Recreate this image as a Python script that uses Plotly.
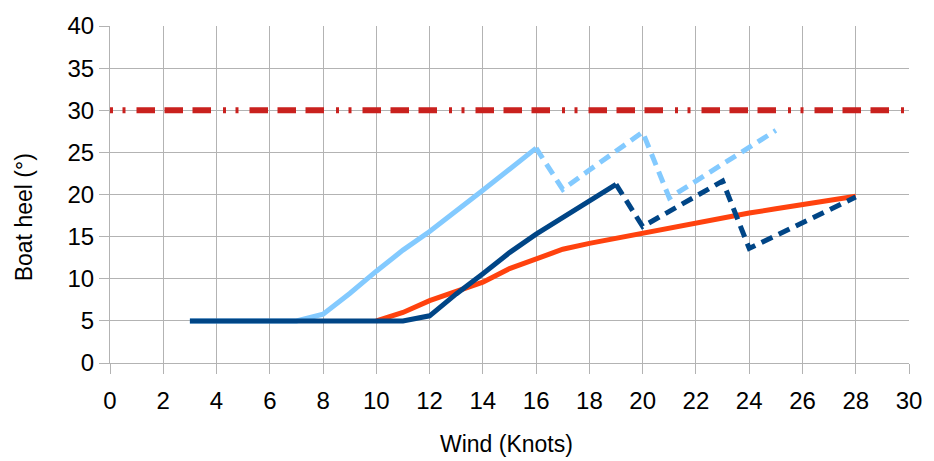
import plotly.graph_objects as go

# Wind speed (knots) and boat heel (degrees) for each configuration
wind_light = [3, 4, 5, 6, 7, 8, 9, 10, 11, 12, 13, 14, 15, 16]
heel_light = [5, 5, 5, 5, 5, 5.8, 8.25, 10.9, 13.4, 15.6, 18.0, 20.5, 23.0, 25.5]

wind_light_reef = [16, 17, 18, 19, 20, 21, 22, 23, 24, 25]
heel_light_reef = [25.5, 20.6, 22.9, 25.1, 27.4, 19.6, 21.6, 23.6, 25.6, 27.6]

wind_orange = [10, 11, 12, 13, 14, 15, 16, 17, 18, 19, 20, 21, 22, 23, 24, 25, 26, 27, 28]
heel_orange = [5, 6.0, 7.4, 8.5, 9.6, 11.2, 12.4, 13.5, 14.2, 14.8, 15.4, 16.0, 16.7,
               17.3, 17.8, 18.3, 18.8, 19.3, 19.8]

wind_dark = [3, 4, 5, 6, 7, 8, 9, 10, 11, 12, 13, 14, 15, 16, 17, 18, 19]
heel_dark = [5, 5, 5, 5, 5, 5, 5, 5, 5, 5.6, 8.2, 10.6, 13.1, 15.3, 17.3, 19.2, 21.2]

wind_dark_reef = [19, 20, 21, 22, 23, 24, 25, 26, 27, 28]
heel_dark_reef = [21.2, 16.2, 18.0, 19.8, 21.6, 13.6, 15.1, 16.6, 18.1, 19.7]

wind_limit = [0, 30]
heel_limit = [30, 30]

x_ticks = list(range(0, 31, 2))
y_ticks = list(range(0, 41, 5))

LIGHT = "#83caff"
DARK = "#004586"
ORANGE = "#ff420e"
RED = "#c9211e"
GRID = "#b3b3b3"
FONT = "Liberation Sans, Arial, sans-serif"

fig = go.Figure()

fig.add_trace(go.Scatter(x=wind_limit, y=heel_limit, mode="lines",
                         line=dict(color=RED, width=6,
                                   dash="3px,9.5px,3px,11px,18.5px,9.5px,18.5px,9.5px,18.5px,12px")))
fig.add_trace(go.Scatter(x=wind_light, y=heel_light, mode="lines",
                         line=dict(color=LIGHT, width=5)))
fig.add_trace(go.Scatter(x=wind_light_reef, y=heel_light_reef, mode="lines",
                         line=dict(color=LIGHT, width=5, dash="12px,7px")))
fig.add_trace(go.Scatter(x=wind_orange, y=heel_orange, mode="lines",
                         line=dict(color=ORANGE, width=5)))
fig.add_trace(go.Scatter(x=wind_dark, y=heel_dark, mode="lines",
                         line=dict(color=DARK, width=5)))
fig.add_trace(go.Scatter(x=wind_dark_reef, y=heel_dark_reef, mode="lines",
                         line=dict(color=DARK, width=5, dash="12px,7px")))

fig.update_layout(
    width=934, height=461,
    margin=dict(l=110, r=20, t=23, b=98),
    paper_bgcolor="white", plot_bgcolor="white",
    showlegend=False,
    font=dict(family=FONT, size=24, color="black"),
    xaxis=dict(range=[0, 30], tickvals=x_ticks, ticktext=[str(v) for v in x_ticks],
               showgrid=True, gridcolor=GRID, gridwidth=1,
               showline=True, linecolor=GRID, linewidth=1,
               ticks="outside", ticklen=10, tickcolor=GRID,
               ticklabelstandoff=6,
               zeroline=False, fixedrange=True),
    yaxis=dict(range=[0, 40], tickvals=y_ticks, ticktext=[str(v) for v in y_ticks],
               showgrid=True, gridcolor=GRID, gridwidth=1,
               showline=True, linecolor=GRID, linewidth=1,
               ticks="outside", ticklen=10, tickcolor=GRID,
               zeroline=False, fixedrange=True),
    annotations=[
        dict(text="Boat heel (°)", textangle=-90, xref="paper", yref="paper",
             x=-0.1082, y=0.431, showarrow=False, xanchor="center", yanchor="middle",
             font=dict(family=FONT, size=23, color="black")),
        dict(text="Wind (Knots)", xref="paper", yref="paper",
             x=0.496, y=-0.241, showarrow=False, xanchor="center", yanchor="middle",
             font=dict(family=FONT, size=23, color="black")),
    ],
)

fig.write_html("out.html")
